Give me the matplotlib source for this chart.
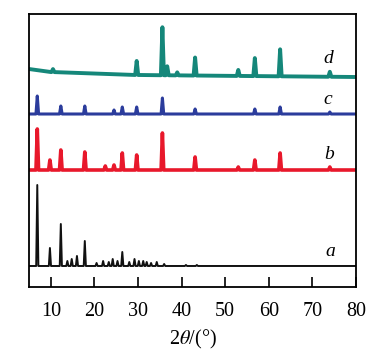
import numpy as np
import matplotlib
matplotlib.use("Agg")
import matplotlib.pyplot as plt

plt.rcParams['font.family'] = ['Liberation Serif', 'DejaVu Serif']
plt.rcParams['mathtext.fontset'] = 'stix'

# peak positions (2theta) and heights above baseline
a_pos = [6.9, 9.8, 12.3, 13.8, 14.8, 16.0, 17.8, 20.5, 22.0, 23.3, 24.2, 25.3, 26.4,
         28.0, 29.2, 30.2, 31.2, 32.0, 33.0, 34.3, 36.0, 41.0, 43.5]
a_h = [81, 18, 42, 5, 7, 10, 25, 3, 5, 4, 7, 5, 14, 4, 7, 5, 5, 4, 3, 4, 2, 1, 1]
b_pos = [6.9, 9.8, 12.3, 17.8, 22.5, 24.5, 26.4, 29.7, 35.6, 43.1, 53.0, 56.8, 62.6, 74.0]
b_h = [41, 10, 20, 18, 4, 5, 17, 15, 37, 13, 3, 10, 17, 3]
c_pos = [6.9, 12.3, 17.8, 24.5, 26.4, 29.7, 35.6, 43.1, 56.8, 62.6, 74.0]
c_h = [18, 8, 8, 4, 7, 7, 16, 5, 5, 7, 2]
d_pos = [10.5, 29.7, 35.6, 36.7, 39.0, 43.1, 53.0, 56.8, 62.6, 74.0]
d_h = [3, 14, 48, 9, 3, 18, 6, 18, 27, 5]

# baselines (2theta, level)
a_base = ([5, 80], [21, 21])
b_base = ([5, 80], [117, 117])
c_base = ([5, 80], [173, 173])
d_base = ([5, 10, 20, 30, 80], [218, 215, 213, 212, 210])

labels = ['a', 'b', 'c', 'd']
label_x = [74.0, 73.8, 73.6, 73.6]
label_y = [35, 132, 188, 229]
colors = ['#111111', '#e8182b', '#2b3c9c', '#15877a']


def trace(pos, h, base, w):
    xs = [base[0][0]]
    ys = [base[1][0]]
    for p, hh in zip(pos, h):
        b0 = np.interp(p, base[0], base[1])
        xs += [p - w, p, p + w]
        ys += [b0, b0 + hh, b0]
    xs.append(base[0][-1])
    ys.append(base[1][-1])
    return xs, ys


fig = plt.figure(figsize=(3.79, 3.63), dpi=100)
ax = fig.add_axes([0.0765, 0.2094, 0.8628, 0.752])

data = [(a_pos, a_h, a_base, 0.25, 1.4),
        (b_pos, b_h, b_base, 0.3, 2.6),
        (c_pos, c_h, c_base, 0.3, 2.2),
        (d_pos, d_h, d_base, 0.35, 2.8)]
for (pos, h, base, w, lw), col in zip(data, colors):
    xs, ys = trace(pos, h, base, w)
    ax.plot(xs, ys, color=col, lw=lw, solid_joinstyle='round')

for lab, lx, ly in zip(labels, label_x, label_y):
    ax.text(lx, ly, lab, fontsize=14, style='italic', ha='center', va='center')

ax.set_xlim(5, 80)
ax.set_ylim(0, 273)
ax.set_xticks([10, 20, 30, 40, 50, 60, 70, 80])
ax.set_yticks([])
ax.tick_params(axis='x', direction='in', length=7, width=1.2, labelsize=14.5, pad=11)
for s in ax.spines.values():
    s.set_linewidth(1.3)
ax.set_xlabel(r'2$\mathit{\theta}$/(°)', fontsize=14.5, labelpad=5)

fig.savefig("out.png", dpi=100)
